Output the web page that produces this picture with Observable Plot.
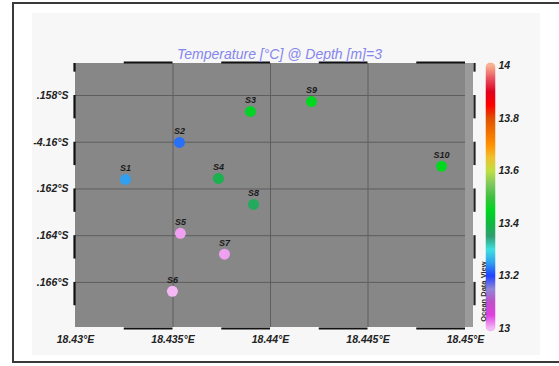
<!DOCTYPE html>
<html>
<head>
<meta charset="utf-8">
<script src="https://cdn.jsdelivr.net/npm/d3@7"></script>
<script src="https://cdn.jsdelivr.net/npm/@observablehq/plot@0.6"></script>
<style>
  html, body { margin: 0; padding: 0; background: #fff; overflow: hidden; }
  #chart { position: relative; width: 559px; height: 366px; overflow: hidden; font-family: "Liberation Sans", Arial, sans-serif; }
  #frame { position: absolute; left: 12px; top: 2px; width: 620px; height: 357px; border: 2px solid #3a3a3a; }
  #panel { position: absolute; left: 32px; top: 13px; width: 508px; height: 342px; background: #f7f7f7; }
  #chart svg { position: absolute; left: 0; top: 0; }
</style>
</head>
<body>
<div id="chart"><div id="frame"></div><div id="panel"></div></div>
<script>
// Stations: name, longitude (°E), latitude, temperature (°C) at 3 m depth
const stations   = ["S1", "S2", "S3", "S4", "S5", "S6", "S7", "S8", "S9", "S10"];
const longitude  = [18.43256, 18.43533, 18.43897, 18.43733, 18.43538, 18.43497, 18.43764, 18.43913, 18.44210, 18.44877];
const latitude   = [-4.16159, -4.16001, -4.15868, -4.16155, -4.16390, -4.16638, -4.16479, -4.16266, -4.15826, -4.16103];
const temperature = [13.25, 13.225, 13.44, 13.385, 13.01, 13.0, 13.01, 13.37, 13.45, 13.45];

// Axis ticks and their printed labels
const lonTicks = [18.43, 18.435, 18.44, 18.445, 18.45];
const lonTickLabels = ["18.43°E", "18.435°E", "18.44°E", "18.445°E", "18.45°E"];
const latTicks = [-4.158, -4.16, -4.162, -4.164, -4.166];
const latTickLabels = [".158°S", "-4.16°S", ".162°S", ".164°S", ".166°S"];
const colorTicks = [13, 13.2, 13.4, 13.6, 13.8, 14];
const colorTickLabels = ["13", "13.2", "13.4", "13.6", "13.8", "14"];

// Map window
const lonDomain = [18.43, 18.45];
const lonStripEnd = 18.45041;
const latDomain = [-4.16793, -4.15663];

// Alternating black segments of the map border
const borderDashLon = [[18.4325, 18.435], [18.4375, 18.44], [18.4425, 18.445], [18.4475, 18.45]];
const borderDashLat = [[-4.157, -4.15663], [-4.159, -4.158], [-4.161, -4.16], [-4.163, -4.162], [-4.165, -4.164], [-4.167, -4.166]];

// ODV-style temperature palette
const paletteStops = [13, 13.05, 13.1, 13.15, 13.2, 13.25, 13.3, 13.35, 13.4, 13.45, 13.5, 13.55, 13.6, 13.65, 13.7, 13.75, 13.8, 13.85, 13.9, 13.95, 14];
const paletteColors = ["#f4b8f4", "#e040e0", "#c050c8", "#9088d8", "#2040ff", "#30a0f0", "#40e0e0", "#30a070", "#10b840", "#00d820", "#40c040", "#80c860", "#c0e040", "#f0c030", "#ff9000", "#f07000", "#e05000", "#ff0000", "#e00020", "#e85060", "#f8b090"];

const colorScale = { type: "linear", domain: paletteStops, range: paletteColors, clamp: true };
const fontFamily = "'Liberation Sans', Arial, sans-serif";
const tickFont = `bold italic 10.5px ${fontFamily}`;

const table = stations.map((name, i) => ({ name, lon: longitude[i], lat: latitude[i], t: temperature[i] }));

const map = Plot.plot({
  width: 559,
  height: 366,
  marginLeft: 75,
  marginRight: 86,
  marginTop: 63,
  marginBottom: 39,
  style: { background: "transparent", overflow: "visible", fontFamily },
  x: { domain: [lonDomain[0], lonStripEnd], axis: null },
  y: { domain: latDomain, axis: null },
  color: colorScale,
  marks: [
    Plot.rect([0], { x1: lonDomain[1], x2: lonStripEnd, y1: latDomain[0], y2: latDomain[1], fill: "#9b9b9b" }),
    Plot.rect([0], { x1: lonDomain[0], x2: lonDomain[1], y1: latDomain[0], y2: latDomain[1], fill: "#878787" }),
    Plot.ruleX(lonTicks.slice(1, -1), { stroke: "#5e5e5e", strokeWidth: 1 }),
    Plot.ruleY(latTicks, { x1: lonDomain[0], x2: lonDomain[1], stroke: "#5e5e5e", strokeWidth: 1 }),
    // map border dashes
    Plot.ruleY(borderDashLon, { x1: d => d[0], x2: d => d[1], y: latDomain[1], dy: -1, stroke: "#111", strokeWidth: 2.2 }),
    Plot.ruleY(borderDashLon, { x1: d => d[0], x2: d => d[1], y: latDomain[0], dy: 1, stroke: "#111", strokeWidth: 2.2 }),
    Plot.ruleX(borderDashLat, { y1: d => d[0], y2: d => d[1], x: lonDomain[0], dx: -1, stroke: "#111", strokeWidth: 2.2 }),
    Plot.ruleX(borderDashLat, { y1: d => d[0], y2: d => d[1], x: lonStripEnd, dx: 1, stroke: "#222", strokeWidth: 2.2 }),
    // axes
    Plot.axisX(lonTicks, { anchor: "bottom", label: null, tickSize: 0, tickPadding: 8, tickFormat: (d, i) => lonTickLabels[i], fill: "#222" }),
    Plot.axisY(latTicks, { anchor: "left", label: null, tickSize: 0, tickPadding: 7, tickFormat: (d, i) => latTickLabels[i], fill: "#222" }),
    // stations
    Plot.dot(table, { x: "lon", y: "lat", fill: "t", r: 5.5 }),
    Plot.text(table, { x: "lon", y: "lat", text: "name", dy: -11, fill: "#1a1a1a", fontSize: 9, fontWeight: "bold", fontStyle: "italic" }),
    // title
    Plot.text(["Temperature [°C] @ Depth [m]=3"], { frameAnchor: "top", lineAnchor: "bottom", dy: -5, dx: 5, fill: "#8585ee", fontSize: 14, fontStyle: "italic" })
  ]
});
d3.select(map).selectAll("g[aria-label$='axis tick label'] text").style("font", tickFont);

const bar = Plot.plot({
  width: 559,
  height: 366,
  marginLeft: 485,
  marginRight: 64,
  marginTop: 62,
  marginBottom: 35,
  style: { background: "transparent", overflow: "visible", fontFamily },
  x: { domain: [0, 1], axis: null },
  y: { domain: [12.988, 14.012], axis: null },
  color: colorScale,
  marks: [
    Plot.raster({ x1: 0, x2: 1, y1: 12.988, y2: 14.012, width: 1, height: 400, fill: (x, y) => y, imageRendering: "auto" }),
    Plot.axisY(colorTicks, { anchor: "right", label: null, tickSize: 0, tickPadding: 3, tickFormat: (d, i) => colorTickLabels[i], fill: "#222" }),
    Plot.text(["Ocean Data View"], { x: 0, y: 13.14, dx: -2, rotate: -90, fill: "#2a2a2a", fontSize: 7.5, fontWeight: "bold" })
  ]
});
d3.select(bar).selectAll("g[aria-label$='axis tick label'] text").style("font", tickFont);

// round the ends of the colour bar
{
  const sx = bar.scale("x"), sy = bar.scale("y");
  const svg = d3.select(bar);
  const defs = svg.insert("defs", ":first-child");
  const x0 = sx.apply(0), x1 = sx.apply(1), y0 = sy.apply(14.012), y1 = sy.apply(12.988);
  defs.append("clipPath").attr("id", "bar-clip")
    .append("rect").attr("x", x0).attr("y", y0).attr("width", x1 - x0).attr("height", y1 - y0).attr("rx", (x1 - x0) / 2);
  svg.select("g[aria-label='raster']").attr("clip-path", "url(#bar-clip)");
}

const root = document.getElementById("chart");
root.appendChild(map);
root.appendChild(bar);
</script>
</body>
</html>
